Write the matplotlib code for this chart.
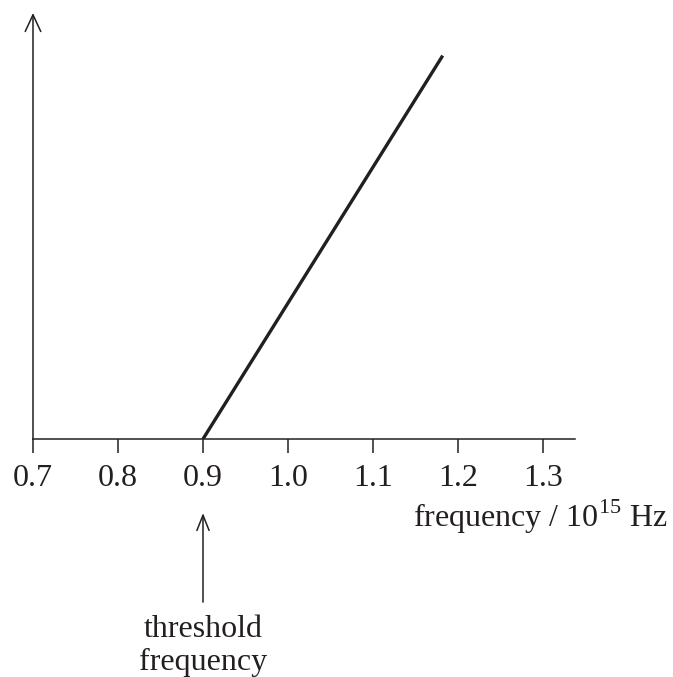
import matplotlib.pyplot as plt

plt.rcParams['font.family'] = ['Liberation Serif', 'DejaVu Serif']
plt.rcParams['mathtext.fontset'] = 'custom'
plt.rcParams['mathtext.rm'] = 'Liberation Serif'

# datos
freq = [0.9, 1.182]          # frecuencia / 10^15 Hz
energy = [0.0, 0.90]         # energia cinetica (unidades arbitrarias)
tick_vals = [0.7, 0.8, 0.9, 1.0, 1.1, 1.2, 1.3]
tick_labels = ['0.7', '0.8', '0.9', '1.0', '1.1', '1.2', '1.3']
threshold = 0.9

ink = '#231f20'
W, H = 673, 677
fig = plt.figure(figsize=(W / 100, H / 100), dpi=100)
# ejes colocados en pixeles de la imagen original
x0, x1 = 33, 575
ytop, ybot = 13, 439
ax = fig.add_axes([x0 / W, (H - ybot) / H, (x1 - x0) / W, (ybot - ytop) / H])

ax.plot(freq, energy, color=ink, lw=2.4, solid_capstyle='butt')

ax.set_xlim(0.7, 0.7 + (x1 - x0) / 850)
ax.set_ylim(0, 1)
ax.set_xticks(tick_vals)
ax.set_xticklabels(tick_labels)
ax.set_yticks([])
ax.tick_params(axis='x', direction='out', length=10, width=1.1, colors=ink,
               labelsize=23, pad=8)
for s in ['top', 'right', 'left']:
    ax.spines[s].set_visible(False)
ax.spines['bottom'].set_linewidth(1.1)
ax.spines['bottom'].set_color(ink)

# eje y con flecha
ax.annotate('', xy=(0, 1.0), xytext=(0, 0), xycoords='axes fraction',
            arrowprops=dict(arrowstyle='->,head_length=0.6,head_width=0.28',
                            mutation_scale=20, lw=1.1, color=ink,
                            shrinkA=0, shrinkB=0), annotation_clip=False)

fig.text(668 / W, 1 - 517 / H, 'frequency / 10$^{15}$ Hz',
         ha='right', va='center', fontsize=23, color=ink)

# flecha de frecuencia umbral
tr = ax.get_xaxis_transform()
ax.annotate('', xy=(threshold, -0.174), xytext=(threshold, -0.383),
            xycoords=tr, textcoords=tr,
            arrowprops=dict(arrowstyle='->,head_length=0.55,head_width=0.22',
                            mutation_scale=20, lw=1.1, color=ink,
                            shrinkA=0, shrinkB=0), annotation_clip=False)
ax.text(threshold, -0.414, 'threshold\nfrequency', transform=tr,
        ha='center', va='top', fontsize=23, color=ink, linespacing=1.15)

fig.savefig('out.png', dpi=100)
